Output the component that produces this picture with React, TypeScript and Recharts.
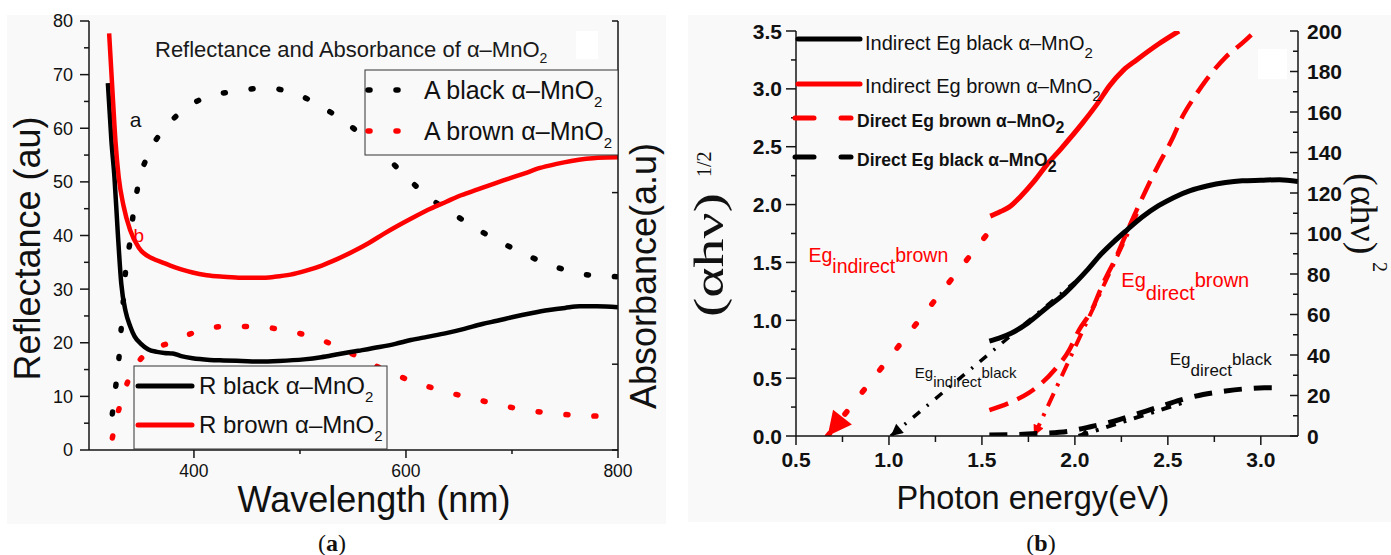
import React from 'react';
import { LineChart, Line, XAxis, YAxis, ReferenceDot } from 'recharts';

type P = [number, number];

// ---------- Panel (a): Reflectance / Absorbance vs wavelength ----------
const rBlack: P[] = [[318.8,68.4],[322.2,57.5],[325,50.9],[328,41],[331.4,31.1],[335.6,25.8],[340,23],[344,21.2],[350,19.8],[356.6,18.8],[365,18.3],[372,18.1],[380,18.0],[388,17.5],[398.7,17.1],[415,16.8],[428,16.7],[445,16.6],[461.7,16.5],[480,16.6],[503.7,16.9],[520,17.3],[537,17.9],[555,18.5],[575,19.2],[590,19.8],[604.6,20.5],[620,21.1],[638,21.8],[655,22.6],[672,23.5],[686,24.1],[701,24.8],[718,25.5],[735,26.1],[750,26.5],[764,26.8],[780,26.8],[800,26.6]];
const rBrown: P[] = [[320,77.7],[323,67.4],[326,57.5],[329,50.9],[333.5,45.6],[339.8,41],[348,37.7],[361,35.7],[370,35],[377.7,34.4],[388,33.7],[398.7,33.1],[412,32.6],[428,32.3],[445,32.1],[461.7,32.1],[476,32.3],[491,32.7],[505,33.4],[520.6,34.4],[535,35.6],[550,37],[565,38.6],[579,40.3],[594,42],[609,43.6],[623,45],[638,46.3],[652,47.5],[667.7,48.6],[682,49.6],[697,50.6],[712,51.6],[726.5,52.6],[741,53.3],[756,53.9],[770,54.3],[781,54.5],[800,54.6]];
const aBlack: P[] = [[323,0.21],[326.4,0.38],[329.3,0.54],[331.4,0.71],[333.5,0.88],[335.6,1.05],[339.8,1.22],[342.8,1.38],[348,1.56],[356.6,1.72],[372,1.87],[392,1.99],[413,2.06],[440,2.09],[467,2.11],[494,2.08],[520.5,2.0],[545,1.9],[567,1.79],[586,1.68],[605.5,1.56],[626.5,1.45],[648.7,1.36],[672,1.27],[696,1.19],[719.4,1.12],[744.6,1.06],[772,1.02],[800,1.01]];
const aBrown: P[] = [[323,0.07],[329.3,0.24],[337.7,0.40],[345,0.49],[354.5,0.56],[377,0.625],[403,0.69],[429.4,0.72],[456.7,0.72],[483.6,0.70],[510.9,0.66],[536.5,0.60],[561.7,0.52],[585.7,0.45],[611,0.39],[637,0.34],[663.5,0.30],[690,0.26],[716.8,0.23],[743,0.21],[772,0.2],[800,0.19]];
const wlTicks = [400, 500, 600, 700, 800];
const reflTicks = [0,5,10,15,20,25,30,35,40,45,50,55,60,65,70,75,80];
const absTicks = [0, 0.5, 1.5, 2.5];
const panelALabels = [{ x: 345, y: 60.3, t: 'a', c: '#111', s: 21 }, { x: 348, y: 38.8, t: 'b', c: '#ff0000', s: 19 }];

// ---------- Panel (b): Tauc plots ----------
const indirectBlack: P[] = [[1.54,0.82],[1.6,0.85],[1.66,0.89],[1.75,0.98],[1.85,1.11],[1.93,1.21],[2.0,1.32],[2.07,1.44],[2.14,1.57],[2.21,1.68],[2.28,1.78],[2.36,1.89],[2.45,1.99],[2.53,2.06],[2.62,2.12],[2.71,2.16],[2.81,2.19],[2.9,2.205],[3.0,2.21],[3.1,2.215],[3.2,2.2]];
const indirectBrown: P[] = [[1.545,1.9],[1.6,1.94],[1.648,1.98],[1.708,2.07],[1.78,2.2],[1.852,2.35],[1.924,2.48],[2.044,2.71],[2.12,2.87],[2.188,3.03],[2.26,3.16],[2.332,3.25],[2.452,3.39],[2.56,3.5]];
const directBrown: P[] = [[1.54,12.8],[1.65,16.5],[1.75,21.2],[1.82,26],[1.89,32.6],[1.97,42.5],[2.02,52],[2.09,62],[2.15,75],[2.22,88],[2.3,105],[2.38,121],[2.45,134],[2.52,146],[2.58,158],[2.64,167],[2.7,175],[2.81,187],[2.9,194],[2.97,200]];
const directBlack: P[] = [[1.54,0.5],[1.65,0.6],[1.8,1.2],[1.97,2.4],[2.09,4.7],[2.21,7.3],[2.33,10.8],[2.45,14.3],[2.57,17.8],[2.69,20.5],[2.81,22.2],[2.93,23.4],[3.02,23.8],[3.12,23.8]];
const fitIndirectBrown: P[] = [[0.67,0],[1.57,1.83]];
const fitIndirectBlack: P[] = [[1.01,0],[2.0,1.33]];
const fitDirectBrown: P[] = [[1.78,0],[2.35,113]];
const fitDirectBlack: P[] = [[2.02,0],[2.6,17]];
const eTicks = [0.5,0.75,1.0,1.25,1.5,1.75,2.0,2.25,2.5,2.75,3.0];
const sqrtTicks = [0,0.25,0.5,0.75,1.0,1.25,1.5,1.75,2.0,2.25,2.5,2.75,3.0,3.25,3.5];
const sqTicks = [0,10,20,30,40,50,60,70,80,90,100,110,120,130,140,150,160,170,180,190,200];
const egLabels = [
  { x: 0.567, y: 1.504, axis: 'L', main: 'Eg', sub: 'indirect', sup: 'brown', c: '#ff0000', s: 19.5, drop: 11, raise: 0 },
  { x: 2.25, y: 1.29, axis: 'L', main: 'Eg', sub: 'direct', sup: 'brown', c: '#ff0000', s: 20, drop: 13, raise: 0 },
  { x: 1.139, y: 0.5, axis: 'L', main: 'Eg', sub: 'indirect', sup: 'black', c: '#111', s: 15, drop: 8.5, raise: 0 },
  { x: 2.51, y: 0.61, axis: 'L', main: 'Eg', sub: 'direct', sup: 'black', c: '#111', s: 17, drop: 11, raise: 0 },
];

const FONT = '"Liberation Sans", Arial, sans-serif';
const SERIF = '"Liberation Serif", "Times New Roman", serif';
const AX = '#151515';
const BG = '#f9f9f9';

const xy = (a: P[]) => a.map(([x, y]) => ({ x, y }));
const isMult = (v: number, step: number) => Math.abs(v / step - Math.round(v / step)) < 1e-6;

type TickCfg = {
  side: 'left' | 'right' | 'bottom';
  step: number;
  major: number;
  minor: number;
  inward?: boolean;
  gap: number;
  size: number;
  weight?: string;
  fmt: (v: number) => string;
};
const makeTick = (cfg: TickCfg) => (props: any) => {
  const { x, y, payload } = props;
  const v = payload.value as number;
  const mj = isMult(v, cfg.step);
  const len = mj ? cfg.major : cfg.minor;
  const lab = mj ? cfg.fmt(v) : '';
  const common = { fontFamily: FONT, fontSize: cfg.size, fontWeight: cfg.weight || 'normal', fill: '#111' } as any;
  if (cfg.side === 'left') {
    const x1 = cfg.inward ? x + len : x - len;
    return (
      <g>
        <line x1={x1} x2={x} y1={y} y2={y} stroke={AX} strokeWidth={1.5} />
        {lab && <text x={x - cfg.gap} y={y} dy="0.36em" textAnchor="end" {...common}>{lab}</text>}
      </g>
    );
  }
  if (cfg.side === 'right') {
    const x1 = cfg.inward ? x - len : x + len;
    return (
      <g>
        <line x1={x1} x2={x} y1={y} y2={y} stroke={AX} strokeWidth={1.5} />
        {lab && <text x={x + cfg.gap} y={y} dy="0.36em" textAnchor="start" {...common}>{lab}</text>}
      </g>
    );
  }
  return (
    <g>
      <line x1={x} x2={x} y1={y} y2={y + len} stroke={AX} strokeWidth={1.5} />
      {lab && <text x={x} y={y + cfg.gap} textAnchor="middle" {...common}>{lab}</text>}
    </g>
  );
};

const tickAY = makeTick({ side: 'left', step: 10, major: 9, minor: 5, gap: 16, size: 18, fmt: (v) => String(v) });
const tickAR = makeTick({ side: 'right', step: 0.5, major: 6, minor: 6, inward: true, gap: 0, size: 18, fmt: () => '' });
const tickAX = makeTick({ side: 'bottom', step: 200, major: 8, minor: 4, gap: 27, size: 17.5, fmt: (v) => String(v) });
const tickBL = makeTick({ side: 'left', step: 0.5, major: 10, minor: 5, gap: 14, size: 21, weight: 'bold', fmt: (v) => v.toFixed(1) });
const tickBR = makeTick({ side: 'right', step: 20, major: 8, minor: 5, inward: true, gap: 9, size: 21, weight: 'bold', fmt: (v) => String(v) });
const tickBX = makeTick({ side: 'bottom', step: 0.5, major: 9, minor: 6, gap: 31, size: 21, weight: 'bold', fmt: (v) => v.toFixed(1) });

const axLine = { stroke: AX, strokeWidth: 1.5 };

const Sub = ({ children, size, dy }: any) => (
  <tspan fontSize={size} dy={dy}>{children}</tspan>
);

export default function App() {
  return (
    <div style={{ position: 'absolute', left: 0, top: 0, width: 1391, height: 555, background: '#fff', overflow: 'hidden', fontFamily: FONT }}>
      <svg width={1391} height={555} style={{ position: 'absolute', left: 0, top: 0 }}>
        <defs>
          <marker id="arrRedBig" viewBox="0 0 10 10" refX="10" refY="5" markerWidth="28" markerHeight="24" markerUnits="userSpaceOnUse" orient="auto-start-reverse">
            <path d="M0,0 L10,5 L0,10 Z" fill="#ff0000" />
          </marker>
          <marker id="arrRed" viewBox="0 0 10 10" refX="10" refY="5" markerWidth="22" markerHeight="11" markerUnits="userSpaceOnUse" orient="auto-start-reverse">
            <path d="M0,0 L10,5 L0,10 Z" fill="#ff0000" />
          </marker>
          <marker id="arrBlack" viewBox="0 0 10 10" refX="10" refY="5" markerWidth="18" markerHeight="12" markerUnits="userSpaceOnUse" orient="auto-start-reverse">
            <path d="M0,0 L10,5 L0,10 Z" fill="#000" />
          </marker>
          <marker id="arrBlackSm" viewBox="0 0 10 10" refX="10" refY="5" markerWidth="13" markerHeight="9" markerUnits="userSpaceOnUse" orient="auto-start-reverse">
            <path d="M0,0 L10,5 L0,10 Z" fill="#000" />
          </marker>
        </defs>
        <rect x={7} y={15} width={659} height={509} fill={BG} />
        <rect x={688} y={15} width={703} height={507} fill={BG} />
      </svg>

      {/* Panel (a) */}
      <div style={{ position: 'absolute', left: 0, top: 0 }}>
        <LineChart width={700} height={555} margin={{ top: 21, right: 72, bottom: 65, left: 39 }}>
          <XAxis dataKey="x" type="number" domain={[301, 800]} ticks={wlTicks} interval={0} allowDataOverflow
            height={40} axisLine={axLine} tickLine={false} tickSize={0} tickMargin={0} tick={tickAX} />
          <YAxis yAxisId="left" domain={[0, 80]} ticks={reflTicks} interval={0} allowDataOverflow width={50}
            axisLine={axLine} tickLine={false} tickSize={0} tickMargin={0} tick={tickAY} />
          <YAxis yAxisId="right" orientation="right" domain={[0, 2.5]} ticks={absTicks} interval={0} allowDataOverflow width={10}
            axisLine={axLine} tickLine={false} tickSize={0} tickMargin={0} tick={tickAR} />
          <Line yAxisId="right" data={xy(aBlack)} dataKey="y" type="monotone" stroke="#000" strokeWidth={5.5}
            strokeDasharray="2 26" strokeLinecap="round" dot={false} activeDot={false} isAnimationActive={false} />
          <Line yAxisId="right" data={xy(aBrown)} dataKey="y" type="monotone" stroke="#ff0000" strokeWidth={5.5}
            strokeDasharray="2 26" strokeLinecap="round" dot={false} activeDot={false} isAnimationActive={false} />
          <Line yAxisId="left" data={xy(rBlack)} dataKey="y" type="monotone" stroke="#000" strokeWidth={4.5}
            dot={false} activeDot={false} isAnimationActive={false} />
          <Line yAxisId="left" data={xy(rBrown)} dataKey="y" type="monotone" stroke="#ff0000" strokeWidth={4.5}
            dot={false} activeDot={false} isAnimationActive={false} />
          {panelALabels.map((l, i) => (
            <ReferenceDot key={i} yAxisId="left" x={l.x} y={l.y} r={0}
              shape={(p: any) => <text x={p.cx} y={p.cy} textAnchor="middle" fontFamily={FONT} fontSize={l.s} fill={l.c}>{l.t}</text>} />
          ))}
        </LineChart>
      </div>

      {/* Panel (b) */}
      <div style={{ position: 'absolute', left: 690, top: 0 }}>
        <LineChart width={701} height={555} margin={{ top: 31, right: 33, bottom: 79, left: 46 }}>
          <XAxis dataKey="x" type="number" domain={[0.5, 3.2]} ticks={eTicks} interval={0} allowDataOverflow
            height={40} axisLine={axLine} tickLine={false} tickSize={0} tickMargin={0} tick={tickBX} />
          <YAxis yAxisId="L" domain={[0, 3.5]} ticks={sqrtTicks} interval={0} allowDataOverflow width={60}
            axisLine={axLine} tickLine={false} tickSize={0} tickMargin={0} tick={tickBL} />
          <YAxis yAxisId="R" orientation="right" domain={[0, 200]} ticks={sqTicks} interval={0} allowDataOverflow width={60}
            axisLine={axLine} tickLine={false} tickSize={0} tickMargin={0} tick={tickBR} />
          <Line yAxisId="L" data={xy(fitIndirectBrown)} dataKey="y" type="linear" stroke="#ff0000" strokeWidth={5.5}
            strokeDasharray="3 25" strokeLinecap="round" markerStart="url(#arrRedBig)" dot={false} activeDot={false} isAnimationActive={false} />
          <Line yAxisId="L" data={xy(fitIndirectBlack)} dataKey="y" type="linear" stroke="#000" strokeWidth={3.5}
            strokeDasharray="9 9 2 9" markerStart="url(#arrBlack)" dot={false} activeDot={false} isAnimationActive={false} />
          <Line yAxisId="R" data={xy(fitDirectBrown)} dataKey="y" type="linear" stroke="#ff0000" strokeWidth={4}
            strokeDasharray="14 8 3 8" markerStart="url(#arrRed)" dot={false} activeDot={false} isAnimationActive={false} />
          <Line yAxisId="R" data={xy(fitDirectBlack)} dataKey="y" type="linear" stroke="#000" strokeWidth={4}
            strokeDasharray="10 8 3 8" markerStart="url(#arrBlackSm)" dot={false} activeDot={false} isAnimationActive={false} />
          <Line yAxisId="R" data={xy(directBrown)} dataKey="y" type="monotone" stroke="#ff0000" strokeWidth={4.5}
            strokeDasharray="20 10" dot={false} activeDot={false} isAnimationActive={false} />
          <Line yAxisId="R" data={xy(directBlack)} dataKey="y" type="monotone" stroke="#000" strokeWidth={5}
            strokeDasharray="18 12" dot={false} activeDot={false} isAnimationActive={false} />
          <Line yAxisId="L" data={xy(indirectBlack)} dataKey="y" type="monotone" stroke="#000" strokeWidth={5}
            dot={false} activeDot={false} isAnimationActive={false} />
          <Line yAxisId="L" data={xy(indirectBrown)} dataKey="y" type="monotone" stroke="#ff0000" strokeWidth={5}
            dot={false} activeDot={false} isAnimationActive={false} />
          {egLabels.map((l, i) => (
            <ReferenceDot key={i} yAxisId={l.axis} x={l.x} y={l.y} r={0}
              shape={(p: any) => (
                <text x={p.cx} y={p.cy} fontFamily={FONT} fontSize={l.s} fill={l.c}>
                  {l.main}
                  <tspan dy={l.drop}>{l.sub}</tspan>
                  <tspan dy={-(l.drop + l.raise)}>{l.sup}</tspan>
                </text>
              )} />
          ))}
        </LineChart>
      </div>

      {/* Overlay texts, legends */}
      <svg width={1391} height={555} style={{ position: 'absolute', left: 0, top: 0, pointerEvents: 'none' }}>
        {/* Panel (a) */}
        <rect x={576} y={31} width={22} height={28} fill="#fff" />
        <text x={155} y={57} fontFamily={FONT} fontSize={22} fill="#1a1a1a">
          Reflectance and Absorbance of α–MnO<Sub size={14} dy={6}>2</Sub>
        </text>
        <rect x={365} y={70} width={253} height={85} fill={BG} stroke="#333" strokeWidth={1} />
        <line x1={368} x2={404} y1={90} y2={90} stroke="#000" strokeWidth={5.5} strokeDasharray="2 26" strokeLinecap="round" />
        <text x={424} y={99} fontFamily={FONT} fontSize={25} fill="#111">A black α–MnO<Sub size={15} dy={8}>2</Sub></text>
        <line x1={368} x2={404} y1={131} y2={131} stroke="#ff0000" strokeWidth={5.5} strokeDasharray="2 26" strokeLinecap="round" />
        <text x={424} y={140} fontFamily={FONT} fontSize={25} fill="#111">A brown α–MnO<Sub size={15} dy={8}>2</Sub></text>

        <rect x={134} y={366} width={253} height={83} fill={BG} stroke="#333" strokeWidth={1} />
        <line x1={138} x2={192} y1={386} y2={386} stroke="#000" strokeWidth={5} strokeLinecap="round" />
        <text x={199} y={394} fontFamily={FONT} fontSize={24} fill="#111">R black α–MnO<Sub size={15} dy={8}>2</Sub></text>
        <line x1={138} x2={192} y1={425} y2={425} stroke="#ff0000" strokeWidth={5} strokeLinecap="round" />
        <text x={199} y={433} fontFamily={FONT} fontSize={24} fill="#111">R brown α–MnO<Sub size={15} dy={8}>2</Sub></text>

        <text x={374} y={512} textAnchor="middle" fontFamily={FONT} fontSize={36} fill="#111">Wavelength (nm)</text>
        <text transform="translate(40,248.5) rotate(-90)" textAnchor="middle" fontFamily={FONT} fontSize={36} fill="#111">Reflectance (au)</text>
        <text transform="translate(656,276) rotate(-90)" textAnchor="middle" fontFamily={FONT} fontSize={36} fill="#111">Absorbance(a.u)</text>
        <text x={332} y={551} textAnchor="middle" fontFamily={SERIF} fontSize={24} fill="#111">(<tspan fontWeight="bold">a</tspan>)</text>

        {/* Panel (b) */}
        <rect x={1258} y={49} width={29} height={30} fill="#fff" />
        <line x1={798} x2={860} y1={39} y2={39} stroke="#000" strokeWidth={5} strokeLinecap="round" />
        <text x={865} y={49.5} fontFamily={FONT} fontSize={20} fill="#111">Indirect Eg black α–MnO<Sub size={15} dy={8}>2</Sub></text>
        <line x1={798} x2={860} y1={84} y2={84} stroke="#ff0000" strokeWidth={5} strokeLinecap="round" />
        <text x={865} y={93} fontFamily={FONT} fontSize={20} fill="#111">Indirect Eg brown α–MnO<Sub size={15} dy={8}>2</Sub></text>
        <line x1={795} x2={814} y1={118} y2={118} stroke="#ff0000" strokeWidth={5} strokeLinecap="round" />
        <line x1={841} x2={851} y1={118} y2={118} stroke="#ff0000" strokeWidth={5} strokeLinecap="round" />
        <text x={857} y={126.5} fontFamily={FONT} fontSize={17.5} fontWeight="bold" fill="#111">Direct Eg brown α–MnO<Sub size={16} dy={6}>2</Sub></text>
        <line x1={795} x2={814} y1={157} y2={157} stroke="#000" strokeWidth={5} strokeLinecap="round" />
        <line x1={841} x2={851} y1={157} y2={157} stroke="#000" strokeWidth={5} strokeLinecap="round" />
        <text x={857} y={166} fontFamily={FONT} fontSize={17.5} fontWeight="bold" fill="#111">Direct Eg black α–MnO<Sub size={16} dy={6}>2</Sub></text>

        <text x={1033} y={509} textAnchor="middle" fontFamily={FONT} fontSize={32.5} fill="#111">Photon energy(eV)</text>
        <text transform="translate(723,317) rotate(-90)" textAnchor="start" fontFamily={SERIF} fontSize={42} fill="#111"
          textLength={124} lengthAdjust="spacingAndGlyphs">(αhν)</text>
        <text transform="translate(711,177) rotate(-90)" textAnchor="start" fontFamily={SERIF} fontSize={20} fill="#111">1/2</text>
        <text transform="translate(1351,173) rotate(90)" textAnchor="start" fontFamily={SERIF} fontSize={38} fill="#111">(αhν)</text>
        <text transform="translate(1373,262) rotate(90)" textAnchor="start" fontFamily={SERIF} fontSize={20} fill="#111">2</text>
        <text x={1041} y={551} textAnchor="middle" fontFamily={SERIF} fontSize={24} fill="#111">(<tspan fontWeight="bold">b</tspan>)</text>
      </svg>
    </div>
  );
}
